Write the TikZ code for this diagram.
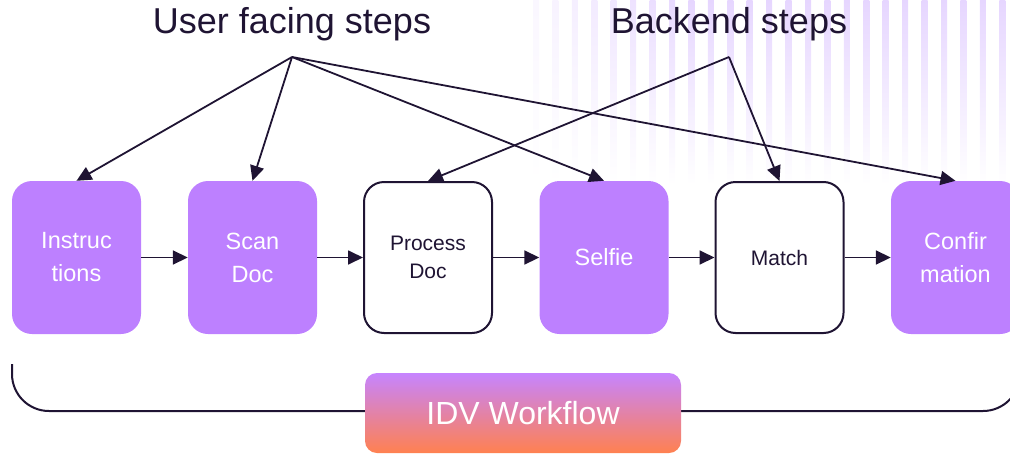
\documentclass[tikz,border=0pt]{standalone}
\usepackage{fontspec}
\setmainfont{Liberation Sans}
\usepackage{tikz}
\usetikzlibrary{arrows.meta}

\definecolor{ink}{HTML}{1F1433}
\definecolor{lilac}{HTML}{BD80FF}
\definecolor{stripe}{HTML}{E6D6FF}
\definecolor{gradtop}{HTML}{C684FF}
\definecolor{gradmid}{HTML}{EE88D6}
\definecolor{gradbot}{HTML}{FF8150}

\tikzset{
  userstep/.style={fill=lilac, rounded corners=20pt, minimum width=129pt, minimum height=153pt,
    text=white, align=center, inner sep=0pt, font=\fontsize{23.5}{33}\selectfont},
  backstep/.style={draw=ink, line width=2pt, fill=white, rounded corners=20pt, minimum width=128pt,
    minimum height=151pt, text=ink, align=center, inner sep=0pt, font=\fontsize{21}{28}\selectfont},
  workflow/.style={rounded corners=12pt, minimum width=316pt, minimum height=80pt, inner sep=0pt,
    top color=gradtop, middle color=gradmid, bottom color=gradbot, text=white,
    font=\fontsize{32}{36}\selectfont},
  flow/.style={draw=ink, line width=1.8pt, -{Triangle[length=15pt,width=14pt]}},
}

\begin{document}
\begin{tikzpicture}[x=1pt,y=-1pt]
      \useasboundingbox (0,0) rectangle (1010,453);

      % faint stripes behind the headings
      \foreach \k in {0,...,24} {
        \pgfmathsetmacro\pct{int(min(100,20+10*\k))}
        \shade[top color=stripe!\pct!white, middle color=stripe!\pct!white!70!white, bottom color=white]
          (533+19.43*\k,0) rectangle ++(6,185);
      }

      \node[anchor=base, text=ink, font=\fontsize{36}{40}\selectfont] (user) at (292,33.5) {User facing steps};
      \node[anchor=base, text=ink, font=\fontsize{36}{40}\selectfont] (back) at (729,33.5) {Backend steps};
      \coordinate (ufork) at (292,57);
      \coordinate (bfork) at (729,57);

      \node[userstep] (instr) at (76.5,257.5) {Instruc\\tions};
      \node[userstep] (scan) at (252.5,257.5) {Scan\\Doc};
      \node[backstep] (procdoc) at (428,257.5) {Process\\Doc};
      \node[userstep] (selfie) at (604,257.5) {Selfie};
      \node[backstep] (match) at (779.5,257.5) {Match};
      \node[userstep] (confirm) at (955.5,257.5) {Confir\\mation};

      \draw[flow] (instr) -- (scan);
      \draw[flow] (scan) -- (procdoc);
      \draw[flow] (procdoc) -- (selfie);
      \draw[flow] (selfie) -- (match);
      \draw[flow] (match) -- (confirm);

      \foreach \t in {instr,scan,selfie,confirm}
        \draw[flow] (ufork) -- (\t.north);
      \foreach \t in {procdoc,match}
        \draw[flow] (bfork) -- (\t.north);

      \draw[ink, line width=2pt, rounded corners=37pt] (12,364) -- (12,411) -- (1020,411) -- (1020,364);
      \node[workflow] (idv) at (523,413) {IDV Workflow};
    \end{tikzpicture}
\end{document}
